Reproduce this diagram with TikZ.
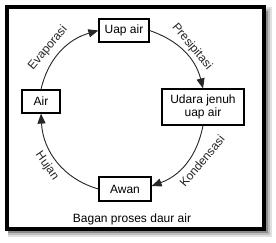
\documentclass[tikz,border=0pt]{standalone}
\usepackage{fontspec}
\setmainfont{Liberation Sans}
\usetikzlibrary{arrows.meta}
\begin{document}
\begin{tikzpicture}[x=1pt,y=1pt,
  box/.style={draw=black,line width=1.2pt,fill=white,inner sep=0pt,align=center,font=\fontsize{12}{13.5}\selectfont},
  cyc/.style={draw=black!85,line width=0.9pt,-{Triangle[length=10pt,width=8pt]}},
  lbl/.style={font=\fontsize{12}{14}\selectfont,text=black!85,inner sep=0pt}]
\useasboundingbox (0,0) rectangle (276,243);
% shadow
\fill[black!12] (8,6) rectangle (272,236);
\fill[black!25] (8,8) rectangle (270,234);
\fill[black!45] (8,10) rectangle (268,232);
% frame
\draw[line width=4pt,fill=white] (7,14) rectangle (264,236);
% boxes
\node[box,minimum width=50pt,minimum height=23pt] (uap) at (124,212.5) {Uap air};
\node[box,minimum width=38pt,minimum height=23pt] (air) at (41,141.5) {Air};
\node[box,minimum width=82pt,minimum height=36pt] (udara) at (203,136) {Udara jenuh\\uap air};
\node[box,minimum width=52pt,minimum height=24pt] (awan) at (125,54) {Awan};
% connectors
\draw[cyc] (air.north) to[out=77,in=196] (uap.west);
\draw[cyc] (uap.east) to[out=-19,in=104] (udara.north);
\draw[cyc] (udara.south) to[out=-101,in=20] ([yshift=3pt]awan.east);
\draw[cyc] (awan.west) to[out=164,in=-87] (air.south);
% labels
\node[lbl,rotate=50] (evap) at (48,195) {Evaporasi};
\node[lbl,rotate=-50] (pres) at (192,196) {Presipitasi};
\node[lbl,rotate=50] (kond) at (202,82) {Kondensasi};
\node[lbl,rotate=-55] (hujan) at (47,77) {Hujan};
\node[lbl,text=black] (cap) at (132,24) {Bagan proses daur air};
\end{tikzpicture}
\end{document}
